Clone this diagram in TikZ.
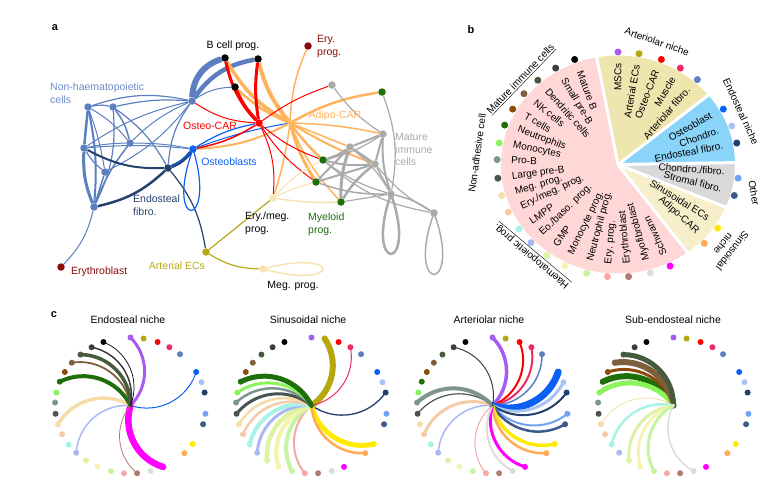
\documentclass[tikz,border=0pt]{standalone}
\usepackage{fontspec}
\setmainfont{Liberation Sans}
\usetikzlibrary{positioning,calc}

% network colours
\definecolor{cNH}{HTML}{5B7FBF}
\definecolor{cNHtxt}{HTML}{6A8BC8}
\definecolor{cEF}{HTML}{24416B}
\definecolor{cOB}{HTML}{0A5FF5}
\definecolor{cOC}{HTML}{FF0000}
\definecolor{cAC}{HTML}{FFB35C}
\definecolor{cGR}{HTML}{AAAAAA}
\definecolor{cMY}{HTML}{1E6E0A}
\definecolor{cER}{HTML}{8B0A0A}
\definecolor{cEM}{HTML}{F9E3B5}
\definecolor{cAE}{HTML}{B5A818}
% cell type colours
\definecolor{ct1}{HTML}{A65CF2}
\definecolor{ct2}{HTML}{B4A80C}
\definecolor{ct3}{HTML}{FF0000}
\definecolor{ct4}{HTML}{EE2A62}
\definecolor{ct5}{HTML}{5B7FBF}
\definecolor{ct6}{HTML}{0A5FF5}
\definecolor{ct7}{HTML}{A8C4F5}
\definecolor{ct8}{HTML}{243F6B}
\definecolor{ct9}{HTML}{73A2F2}
\definecolor{ct10}{HTML}{3E5A8A}
\definecolor{ct11}{HTML}{FFEB00}
\definecolor{ct12}{HTML}{FFAA55}
\definecolor{ct13}{HTML}{FF00FF}
\definecolor{ct14}{HTML}{DCDCDC}
\definecolor{ct15}{HTML}{B07A74}
\definecolor{ct16}{HTML}{F5A8A5}
\definecolor{ct17}{HTML}{C5F5A0}
\definecolor{ct18}{HTML}{F4F4B0}
\definecolor{ct19}{HTML}{DCF2A5}
\definecolor{ct20}{HTML}{A9B8F5}
\definecolor{ct21}{HTML}{A8F2E6}
\definecolor{ct22}{HTML}{F7CBA8}
\definecolor{ct23}{HTML}{F5DCA8}
\definecolor{ct24}{HTML}{48534F}
\definecolor{ct25}{HTML}{7E9490}
\definecolor{ct26}{HTML}{8AF55A}
\definecolor{ct27}{HTML}{1E6E0A}
\definecolor{ct28}{HTML}{8C4B0C}
\definecolor{ct29}{HTML}{7D5F3C}
\definecolor{ct30}{HTML}{465A3C}
\definecolor{ct31}{HTML}{3C3C3C}
\definecolor{ct32}{HTML}{000000}
% niche wedges
\definecolor{wPink}{HTML}{FFD7D7}
\definecolor{wArt}{HTML}{EFE5AF}
\definecolor{wEnd}{HTML}{8AD4FA}
\definecolor{wOth}{HTML}{D9D9D9}
\definecolor{wSin}{HTML}{F7EECA}

\pgfdeclarelayer{links}
\pgfsetlayers{links,main}

\def\cellangles{1/90,2/80,3/69,4/59,5/49,6/29.5,7/20,8/11,9/-7,10/-16,11/-34.5,12/-44.5,13/-64.5,14/-74.5,15/-85,16/-95,17/-105,18/-116,19/-126,20/-136,21/-145,22/-155,23/-164,24/-173,25/177.5,26/169,27/159.5,28/150.5,29/141,30/131.5,31/121,32/111}

\begin{document}
\begin{tikzpicture}[x=1pt,y=-1pt,
    cell/.style={circle,fill=#1,inner sep=0pt,minimum size=7.5pt},
    dot/.style={circle,fill=#1,inner sep=0pt,minimum size=6pt},
    lbl/.style={font=\fontsize{10.5}{12.6}\selectfont,inner sep=0pt},
    plbl/.style={font=\fontsize{10}{11.5}\selectfont,inner sep=0pt},
    tag/.style={font=\fontsize{11}{12}\selectfont\bfseries,inner sep=0pt}]
\useasboundingbox (0,0) rectangle (779,495);

% ---- a ----
\node[tag] at (55,28) {a};
\node[cell=cNH] (nhA) at (88,107) {};
\node[cell=cNH] (nhB) at (113,107) {};
\node[cell=cNH] (nhC) at (84,148) {};
\node[cell=cNH] (nhD) at (130,143) {};
\node[cell=cNH] (nhE) at (105,172) {};
\node[cell=cNH] (nhF) at (94,207) {};
\node[cell=cNH] (nhG) at (192,101) {};
\node[cell=cEF] (efib) at (168,168) {};
\node[cell=cOB] (obl) at (193,149) {};
\node[cell=cOC] (ocar) at (259,123) {};
\node[cell=cAC,minimum size=4pt] (acar) at (290,123) {};
\node[cell=black] (bcA) at (225,58) {};
\node[cell=black] (bcB) at (258,59) {};
\node[cell=black] (bcC) at (235,87) {};
\node[cell=cER] (eryp) at (308,46) {};
\node[cell=cER] (eryb) at (61,267) {};
\node[cell=cGR] (imA) at (332,85) {};
\node[cell=cGR] (imB) at (383,134) {};
\node[cell=cGR] (imC) at (350,147) {};
\node[cell=cGR] (imD) at (375,164) {};
\node[cell=cGR] (imE) at (391,194) {};
\node[cell=cGR] (imF) at (434,213) {};
\node[cell=cMY] (myA) at (382,92) {};
\node[cell=cMY] (myB) at (323,160) {};
\node[cell=cMY] (myC) at (316,182) {};
\node[cell=cMY] (myD) at (341,202) {};
\node[cell=cEM] (emp) at (273,198) {};
\node[cell=cEM] (megp) at (263,269) {};
\node[cell=cAE] (aec) at (206,252) {};

\node[lbl,text=cNHtxt,anchor=north west,align=left] at (50,83) {Non-haematopoietic\\cells};
\node[lbl] at (233,46) {B cell prog.};
\node[lbl,text=cER,anchor=north west,align=left] at (317,35) {Ery.\\prog.};
\node[lbl,text=cOC] at (210,126) {Osteo-CAR};
\node[lbl,text=cOB] at (229,162) {Osteoblasts};
\node[lbl,text=cAC] at (335,116) {Adipo-CAR};
\node[lbl,text=cEF,anchor=north west,align=left] at (133,195) {Endosteal\\fibro.};
\node[lbl,anchor=north west,align=left] at (245,212) {Ery./meg.\\prog.};
\node[lbl,text=cMY,anchor=north west,align=left] at (308,213) {Myeloid\\prog.};
\node[lbl,text=cGR,anchor=north west,align=left] at (395,133) {Mature\\immune\\cells};
\node[lbl,text=cER,anchor=west] at (71,272) {Erythroblast};
\node[lbl,text=cAE] at (177,266) {Arterial ECs};
\node[lbl] at (293,286) {Meg. prog.};

\begin{pgfonlayer}{links}
  \foreach \a/\b/\w/\bd in {nhG/bcA/6/35, nhG/bcB/4.5/22, nhG/bcC/1/15, nhA/nhC/2.5/0,
      nhC/nhF/3/-12, nhA/nhF/2/8, nhA/nhB/1.2/12, nhA/nhD/1/10, nhA/nhE/1/5,
      nhB/nhD/1.5/12, nhB/nhF/1.2/15, nhB/efib/1.2/12, nhC/nhD/1/5, nhC/nhE/1.2/-10,
      nhC/nhG/1/10, nhC/obl/1/5, nhD/nhF/1.5/-8, nhD/nhG/1/10, nhE/nhF/1.5/0,
      nhE/nhG/1/-12, nhA/nhG/1.2/15, nhB/nhG/1.2/8, nhF/eryb/1/15, nhG/efib/1.2/-15,
      nhD/obl/1/5}
    \draw[cNH,line width=\w pt] (\a) to[bend left=\bd] (\b);
  \foreach \a/\b/\w/\bd in {efib/nhC/2/15, efib/nhF/2.5/15, efib/obl/3.5/-15, efib/aec/1.2/15}
    \draw[cEF,line width=\w pt] (\a) to[bend left=\bd] (\b);
  \foreach \a/\b/\w/\bd in {obl/efib/1/10, obl/ocar/1.2/10, obl/acar/1/5}
    \draw[cOB,line width=\w pt] (\a) to[bend left=\bd] (\b);
  \draw[cOB,line width=1.2pt] (obl.center) .. controls +(-30,82) and +(25,82) .. (obl.center);
  \foreach \a/\b/\w/\bd in {acar/bcA/3.5/15, acar/bcB/4/12, acar/bcC/2.5/10, acar/eryp/1.5/10,
      acar/myA/2.5/10, acar/imB/1.5/5, acar/imD/2/-5, acar/myB/2.5/-5, acar/myC/3/-8,
      acar/myD/1.5/-10, acar/obl/2/12, acar/emp/1.5/5, acar/imC/1.5/0}
    \draw[cAC,line width=\w pt] (\a) to[bend left=\bd] (\b);
  \foreach \a/\b/\w/\bd in {ocar/bcA/3/15, ocar/bcC/3.5/10, ocar/bcB/3/8, ocar/nhG/1/15,
      ocar/obl/1.5/10, ocar/imA/1/8, ocar/myB/1/-10, ocar/myC/1/-10, ocar/emp/1/15}
    \draw[cOC,line width=\w pt] (\a) to[bend left=\bd] (\b);
  \foreach \a/\b/\w/\bd in {imA/imB/1.2/-10, myA/imE/1.2/15, imB/imC/2/0, imB/imD/2/0,
      imB/imE/2/-10, imB/myB/1.2/10, imC/myB/2.5/10, imC/myC/2/0, imC/myD/3/-10,
      imC/imD/2.5/0, imC/imE/1.2/10, imD/myB/2/10, imD/myC/2/0, imD/myD/2.5/-10,
      imD/imE/1.5/0, imD/imF/1.2/-10, myB/imE/1.2/-10, myB/imF/1.2/-15,
      myC/imE/1.5/-10, myD/imE/1.2/0, imE/imF/1.5/10}
    \draw[cGR,line width=\w pt] (\a) to[bend left=\bd] (\b);
  \draw[cGR,line width=2.5pt] (imE.center) .. controls +(-28,80) and +(28,80) .. (imE.center);
  \draw[cGR,line width=1.5pt] (imF.center) .. controls +(-30,82) and +(30,82) .. (imF.center);
  \foreach \a/\b/\w/\bd in {emp/myB/1.2/10, emp/myC/1.2/5, emp/myD/1.5/-5}
    \draw[cEM,line width=\w pt] (\a) to[bend left=\bd] (\b);
  \draw[cEM,line width=1.5pt] (megp.center) .. controls +(80,-22) and +(80,22) .. (megp.center);
  \draw[cAE,line width=1.2pt] (aec) to[bend left=0] (emp);
  \draw[cAE,line width=1.2pt] (aec) to[bend right=15] (megp);
\end{pgfonlayer}

% ---- b ----
\node[tag] at (471,30) {b};
\begin{scope}[shift={(618,164.5)},yscale=-1]
  \fill[wPink] (0,0) -- (100.5:117 and 109) arc[start angle=100.5,end angle=306.4,x radius=117,y radius=109] -- cycle;
  \fill[wArt] (0,0) -- (39.5:117 and 109) arc[start angle=39.5,end angle=100.5,x radius=117,y radius=109] -- cycle;
  \fill[wEnd] (0,0) -- (1:117 and 109) arc[start angle=1,end angle=39.5,x radius=117,y radius=109] -- cycle;
  \fill[wOth] (0,0) -- (-23:117 and 109) arc[start angle=-23,end angle=1,x radius=117,y radius=109] -- cycle;
  \fill[wSin] (0,0) -- (-53.6:117 and 109) arc[start angle=-53.6,end angle=-23,x radius=117,y radius=109] -- cycle;
  \foreach \a in {100.5,39.5,1,-23,-53.6}
    \draw[white,line width=3pt] (0,0) -- (\a:119 and 111);
  \foreach \i/\a in \cellangles
    \node[dot=ct\i,minimum size=7pt] (pie-\i) at (\a:121 and 112.5) {};
  \foreach \a/\t in {111/Mature B, 121/Small pre-B, 131.5/Dendritic cells, 141/NK cells,
      150.5/T cells, 159.5/Neutrophils, 169/Monocytes, 177.5/Pro-B, 187/Large pre-B,
      196/Meg. prog., 205/{Ery./meg. prog.}, 215/LMPP, 224/{Eo./baso. prog.}, 234/GMP,
      244/Monocyte prog., 255/Neutrophil prog., 265/Ery. prog., 275/Erythroblast,
      285.5/Myofibroblast, 295.5/Schwann}
    \node[plbl,anchor=west,rotate=\a+180] at (\a:107 and 100) {\t};
  \foreach \a/\t in {90/MSCs, 80/Arterial ECs, 69/Osteo-CAR, 59/Muscle, 49/Arteriolar fibro.,
      29.5/Osteoblast, 20/Chondro., 11/Endosteal fibro., -4/{Chondro./fibro.},
      -14/Stromal fibro., -32/Sinusoidal ECs, -42/Adipo-CAR}
    \node[plbl,anchor=east,rotate=\a] at (\a:107 and 101) {\t};
  \node[plbl,rotate=46] at (-97,85) {\underline{Mature immune cells}};
  \node[plbl,rotate=82] at (-141,11.5) {Non-adhesive cell};
  \node[plbl,rotate=140] at (-86,-91) {\underline{Haematopoietic prog.}};
  \node[plbl,rotate=-19] at (39,123) {Arteriolar niche};
  \node[plbl,rotate=-65] at (123,53) {Endosteal niche};
  \node[plbl,rotate=-80] at (136,-28.5) {Other};
  \node[plbl,rotate=-128,align=center] at (110,-83) {Sinusoidal\\niche};
\end{scope}

% ---- c ----
\node[tag] at (54,315) {c};
\foreach \p/\cx/\tx/\ttl in {E/130.5/128/Endosteal niche, S/311.5/308/Sinusoidal niche,
    A/492.5/489/Arteriolar niche, U/673.5/673/Sub-endosteal niche} {
  \node[lbl] at (\tx,320) {\ttl};
  \begin{scope}[shift={(\cx,405.5)},yscale=-1]
    \coordinate (\p-o) at (0,0);
    \foreach \i/\a in \cellangles
      \node[dot=ct\i] (\p-\i) at (\a:75.5 and 68) {};
  \end{scope}
}
\begin{pgfonlayer}{links}
  \foreach \p/\i/\w in {E/1/3, E/6/1, E/13/6.5, E/15/0.8, E/20/1.5, E/23/3.5, E/27/4,
      E/29/1.8, E/30/3.5, E/31/1.5, E/32/0.7,
      S/2/6, S/4/1, S/8/1.3, S/11/5, S/12/2.5, S/16/2, S/17/4, S/18/4.5, S/19/4.5,
      S/20/3, S/21/4, S/22/2.5, S/23/2.5, S/24/3, S/25/2.5, S/26/3, S/27/5,
      A/1/3.5, A/3/2, A/4/2, A/5/1.5, A/6/7, A/7/3, A/8/2, A/9/2, A/10/2.5, A/11/3.5,
      A/12/2.5, A/13/3, A/14/2, A/16/1, A/20/1.5, A/22/3, A/24/1.2, A/25/4, A/31/1,
      U/27/6, U/26/5, U/28/3, U/29/6, U/30/5, U/23/0.8, U/21/2.5, U/19/3, U/18/3,
      U/17/3, U/14/1.5}
    \draw[ct\i,line width=\w pt,line cap=round] (\p-o) to[bend right=45] (\p-\i.center);
\end{pgfonlayer}
\end{tikzpicture}
\end{document}
